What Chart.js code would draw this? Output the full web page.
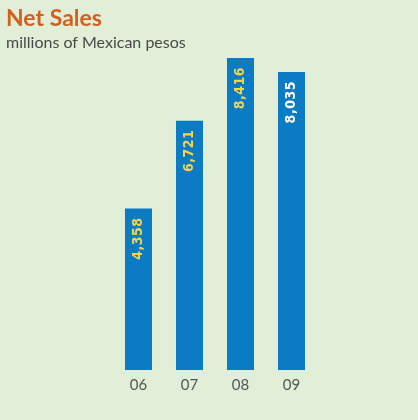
<!DOCTYPE html>
<html>
<head>
<meta charset="utf-8">
<script src="https://cdn.jsdelivr.net/npm/chart.js@4"></script>
<style>
  html, body { margin: 0; padding: 0; background: #e1efd8; }
  canvas { display: block; }
</style>
</head>
<body>
<canvas id="salesChart" width="418" height="420"></canvas>
<script>
const years = ["06", "07", "08", "09"];
const netSales = [4358, 6721, 8416, 8035];
const valueLabels = ["4,358", "6,721", "8,416", "8,035"];
const labelColors = ["#f5d54c", "#f5d54c", "#f5d54c", "#ffffff"];

// rotated value labels inside the top of each bar
const barLabels = {
  id: "barLabels",
  afterDatasetsDraw(chart) {
    const ctx = chart.ctx;
    const meta = chart.getDatasetMeta(0);
    meta.data.forEach((bar, i) => {
      ctx.save();
      ctx.translate(bar.x, bar.y + 9);
      ctx.rotate(-Math.PI / 2);
      ctx.font = "bold 14px 'DejaVu Sans Condensed'";
      ctx.letterSpacing = "0.5px";
      ctx.fillStyle = labelColors[i];
      ctx.textAlign = "right";
      ctx.textBaseline = "middle";
      ctx.fillText(valueLabels[i], 0, 0);
      ctx.restore();
    });
  },
};

new Chart(document.getElementById("salesChart"), {
  type: "bar",
  data: {
    labels: years,
    datasets: [
      {
        data: netSales,
        backgroundColor: "#0b7bc3",
        barPercentage: 0.53,
        categoryPercentage: 1,
      },
    ],
  },
  options: {
    responsive: false,
    animation: false,
    layout: { padding: { left: 6, right: 101, top: 0, bottom: 20 } },
    plugins: {
      legend: { display: false },
      tooltip: { enabled: false },
      title: {
        display: true,
        text: "Net Sales",
        align: "start",
        color: "#d3601d",
        font: { family: "Lato", size: 23, weight: "bold" },
        padding: { top: 5, bottom: 1 },
      },
      subtitle: {
        display: true,
        text: "millions of Mexican pesos",
        align: "start",
        color: "#484848",
        font: { family: "Lato", size: 16 },
        padding: { top: 0, bottom: 2 },
      },
    },
    scales: {
      x: {
        grid: { display: false, drawTicks: false },
        border: { display: false },
        ticks: {
          color: "#555555",
          font: { family: "Lato", size: 15 },
          padding: 6,
        },
      },
      y: {
        min: 0,
        max: 8500,
        grid: { display: false },
        border: { display: false },
        ticks: { display: false },
        afterFit(scale) {
          scale.width = 107;
        },
      },
    },
  },
  plugins: [barLabels],
});
</script>
</body>
</html>
